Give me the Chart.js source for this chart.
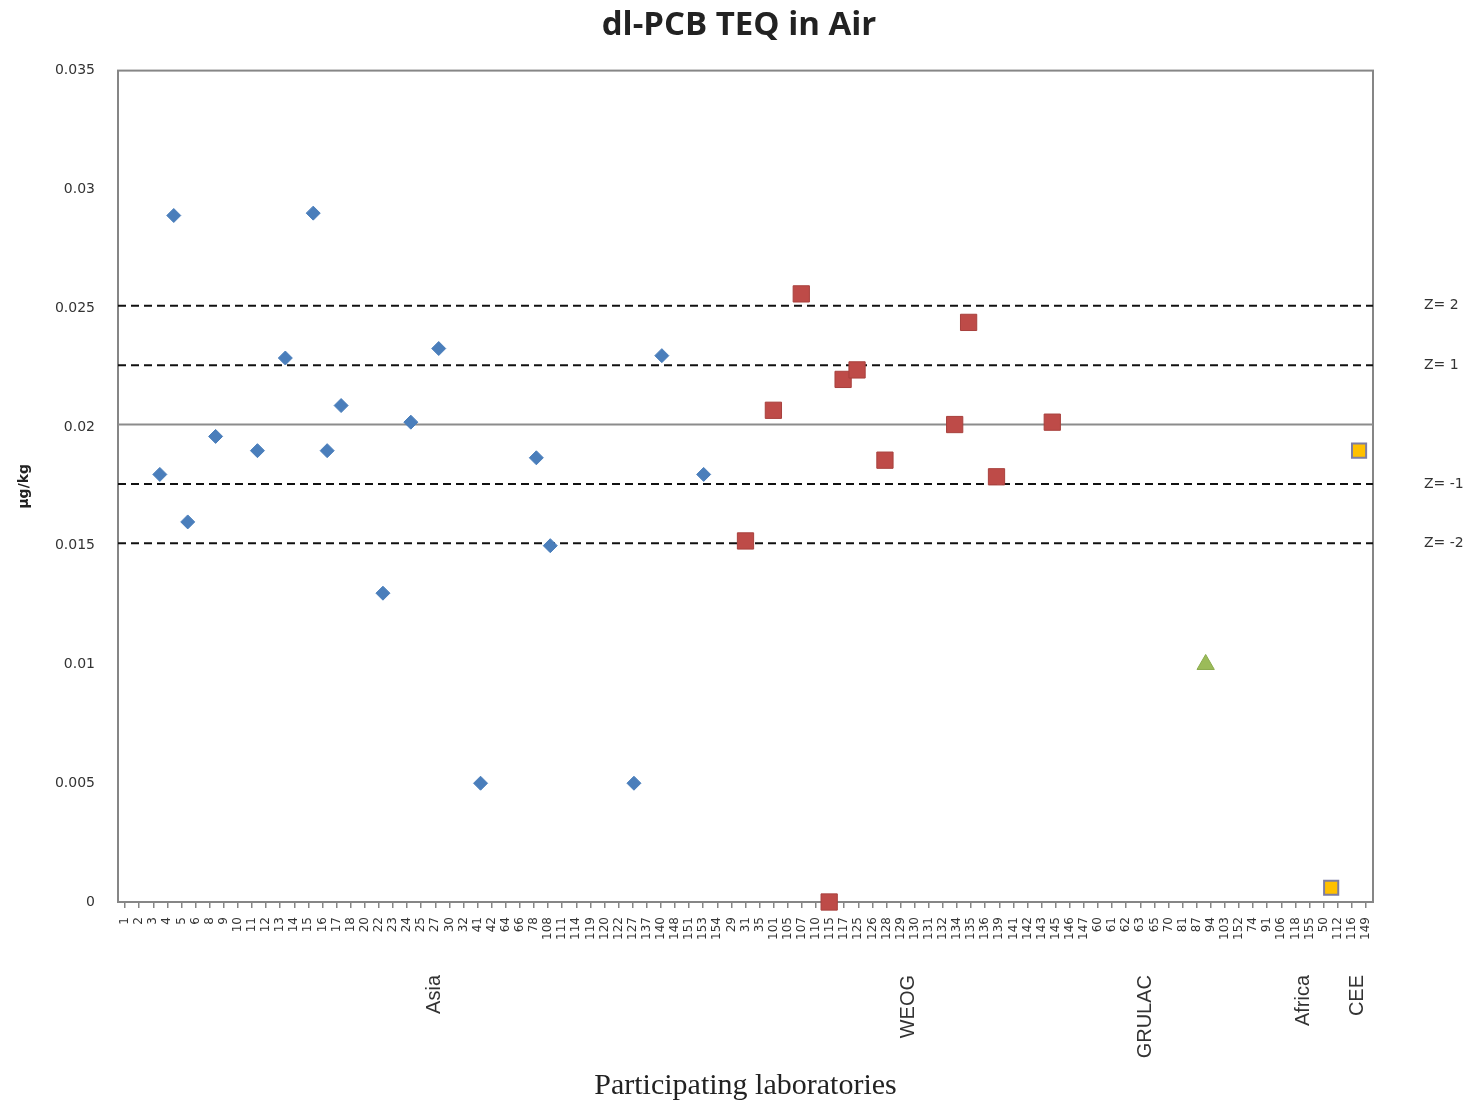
<!DOCTYPE html>
<html>
<head>
<meta charset="utf-8">
<title>dl-PCB TEQ in Air</title>
<script src="https://cdn.jsdelivr.net/npm/chart.js@4.4.1/dist/chart.umd.min.js"></script>
<style>
    html, body { margin: 0; padding: 0; background: #ffffff; }
    #wrap { width: 1478px; height: 1107px; }
</style>
</head>
<body>
<div id="wrap"><canvas id="teqChart" width="1478" height="1107"></canvas></div>
<script>
/**
 * dl-PCB TEQ in Air
 * Lab results by region, plotted against the lab sequence (1..89)
 */

// lab codes along the x axis, grouped by region
const labCodes = [
    '1', '2', '3', '4', '5', '6', '8', '9', '10', '11', '12', '13', '14', '15', '16', '17', '18',
    '20', '22', '23', '24', '25', '27', '30', '32', '41', '42', '64', '66', '78', '108', '111',
    '114', '119', '120', '122', '127', '137', '140', '148', '151', '153', '154',
    '29', '31', '35', '101', '105', '107', '110', '115', '117', '125', '126', '128', '129', '130',
    '131', '132', '134', '135', '136', '139', '141', '142', '143', '145', '146', '147',
    '60', '61', '62', '63', '65', '70', '81', '87', '94', '103',
    '152', '74', '91', '106', '118', '155',
    '50', '112', '116', '149'
];

// Asia
const asiaLabs = ['3', '4', '5', '8', '11', '13', '15', '16', '17', '22', '24', '27', '41', '78', '108', '127', '140', '153'];
const asiaValues = [0.0180, 0.0289, 0.0160, 0.0196, 0.0190, 0.0229, 0.0290, 0.0190, 0.0209, 0.0130, 0.0202, 0.0233, 0.0050, 0.0187, 0.0150, 0.0050, 0.0230, 0.0180];

// WEOG
const weogLabs = ['31', '101', '107', '115', '117', '125', '128', '134', '135', '139', '145'];
const weogValues = [0.0152, 0.0207, 0.0256, 0.0000, 0.0220, 0.0224, 0.0186, 0.0201, 0.0244, 0.0179, 0.0202];

// GRULAC
const grulacLabs = ['94'];
const grulacValues = [0.0100];

// CEE
const ceeLabs = ['112', '149'];
const ceeValues = [0.0006, 0.0190];

// assigned value and z-score limits
const assignedValue = 0.0201;
const zLevels = [2, 1, -1, -2];
const zValues = [0.0251, 0.0226, 0.0176, 0.0151];

// y axis
const yMin = 0;
const yMax = 0.035;
const yStep = 0.005;

const ChartModule = {
    chart: null,

    colors: {
        asia: '#4a7ebb',
        weog: '#be4b48',
        grulac: '#9bbb59',
        cee: '#ffc000',
        ceeBorder: '#7d7da3',
        frame: '#868686',
        text: '#333333'
    },

    /**
     * lab codes -> scatter points (x = position of the lab on the axis)
     */
    toPoints(labs, values) {
        return labs.map((code, i) => ({ x: labCodes.indexOf(code) + 1, y: values[i] }));
    },

    /**
     * horizontal reference line across the whole axis
     */
    levelLine(value, color, dash) {
        return {
            data: [{ x: 0, y: value }, { x: labCodes.length + 1, y: value }],
            showLine: true,
            borderColor: color,
            borderWidth: 2,
            borderDash: dash,
            pointRadius: 0,
            order: 2
        };
    },

    /** plot frame and region labels */
    decorations: {
        id: 'decorations',
        beforeDatasetsDraw(chart) {
            const { ctx, chartArea: a } = chart;
            ctx.save();
            ctx.strokeStyle = ChartModule.colors.frame;
            ctx.lineWidth = 2;
            ctx.strokeRect(a.left, a.top, a.right - a.left, a.bottom - a.top);
            ctx.restore();
        },
        afterDraw(chart, args, opts) {
            const { ctx, scales } = chart;
            ctx.save();
            ctx.fillStyle = ChartModule.colors.text;
            ctx.font = '20px "Liberation Sans"';
            ctx.textAlign = 'right';
            ctx.textBaseline = 'middle';
            opts.regions.forEach(r => {
                ctx.save();
                ctx.translate(scales.x.getPixelForValue(r.at), opts.regionTop);
                ctx.rotate(-Math.PI / 2);
                ctx.fillText(r.text, 0, 0);
                ctx.restore();
            });
            ctx.restore();
        }
    },

    init() {
        const ctx = document.getElementById('teqChart');
        const c = this.colors;
        const n = labCodes.length;

        this.chart = new Chart(ctx, {
            type: 'scatter',
            data: {
                datasets: [
                    {
                        label: 'Asia',
                        data: this.toPoints(asiaLabs, asiaValues),
                        pointStyle: 'rectRot',
                        pointRadius: 7,
                        backgroundColor: c.asia,
                        borderColor: c.asia,
                        borderWidth: 1,
                        clip: false,
                        order: 0
                    },
                    {
                        label: 'WEOG',
                        data: this.toPoints(weogLabs, weogValues),
                        pointStyle: 'rect',
                        pointRadius: 11.5,
                        backgroundColor: c.weog,
                        borderColor: '#a8403d',
                        borderWidth: 1,
                        clip: false,
                        order: 0
                    },
                    {
                        label: 'GRULAC',
                        data: this.toPoints(grulacLabs, grulacValues),
                        pointStyle: 'triangle',
                        pointRadius: 10,
                        backgroundColor: c.grulac,
                        borderColor: '#8aab4c',
                        borderWidth: 1,
                        clip: false,
                        order: 0
                    },
                    {
                        label: 'CEE',
                        data: this.toPoints(ceeLabs, ceeValues),
                        pointStyle: 'rect',
                        pointRadius: 10,
                        backgroundColor: c.cee,
                        borderColor: c.ceeBorder,
                        borderWidth: 2,
                        clip: false,
                        order: 0
                    },
                    this.levelLine(assignedValue, '#8c8c8c', []),
                    ...zValues.map(v => this.levelLine(v, '#111111', [8, 5]))
                ]
            },
            options: {
                responsive: false,
                animation: false,
                layout: {
                    padding: 0
                },
                scales: {
                    x: {
                        type: 'linear',
                        min: 0,
                        max: n + 1,
                        display: false
                    },
                    labs: {
                        type: 'category',
                        position: 'bottom',
                        labels: labCodes,
                        offset: true,
                        border: { display: false },
                        grid: {
                            drawOnChartArea: false,
                            color: c.frame,
                            lineWidth: 1.5,
                            tickLength: 6
                        },
                        ticks: {
                            autoSkip: false,
                            minRotation: 90,
                            maxRotation: 90,
                            padding: 9,
                            color: c.text,
                            font: { family: 'DejaVu Sans', size: 12 }
                        },
                        title: {
                            display: true,
                            text: 'Participating laboratories',
                            color: '#222222',
                            font: { family: 'Liberation Serif', size: 30 },
                            padding: { top: 0, bottom: 3 }
                        },
                        afterFit(scale) {
                            scale.height = 205;
                        }
                    },
                    y: {
                        min: yMin,
                        max: yMax,
                        border: { display: false },
                        grid: { display: false },
                        ticks: {
                            stepSize: yStep,
                            padding: 15,
                            color: c.text,
                            font: { family: 'DejaVu Sans', size: 14 },
                            callback: function(value) {
                                return parseFloat(value.toFixed(3)).toString();
                            }
                        },
                        title: {
                            display: true,
                            text: 'μg/kg',
                            color: '#222222',
                            font: { family: 'DejaVu Sans', size: 14, weight: 'bold' },
                            padding: { top: 16, bottom: 0 }
                        },
                        afterFit(scale) {
                            scale.width = 118;
                        }
                    },
                    // z-score labels on the right side
                    z: {
                        type: 'linear',
                        position: 'right',
                        min: yMin,
                        max: yMax,
                        border: { display: false },
                        grid: { display: false },
                        afterBuildTicks(scale) {
                            scale.ticks = zValues.map(v => ({ value: v }));
                        },
                        ticks: {
                            padding: 43,
                            color: c.text,
                            font: { family: 'DejaVu Sans', size: 14 },
                            callback: function(value, index) {
                                return 'Z= ' + zLevels[index];
                            }
                        },
                        afterFit(scale) {
                            scale.width = 105;
                        }
                    }
                },
                plugins: {
                    legend: { display: false },
                    tooltip: { enabled: false },
                    title: {
                        display: true,
                        text: 'dl-PCB TEQ in Air',
                        color: '#222222',
                        font: { family: 'Open Sans', size: 33, weight: 'bold' },
                        padding: { top: 6, bottom: 25 }
                    },
                    decorations: {
                        regionTop: 975,
                        regions: [
                            { text: 'Asia', at: 22.7 },
                            { text: 'WEOG', at: 56.7 },
                            { text: 'GRULAC', at: 73.7 },
                            { text: 'Africa', at: 85.0 },
                            { text: 'CEE', at: 88.9 }
                        ]
                    }
                }
            },
            plugins: [this.decorations]
        });
    }
};

ChartModule.init();
</script>
</body>
</html>
